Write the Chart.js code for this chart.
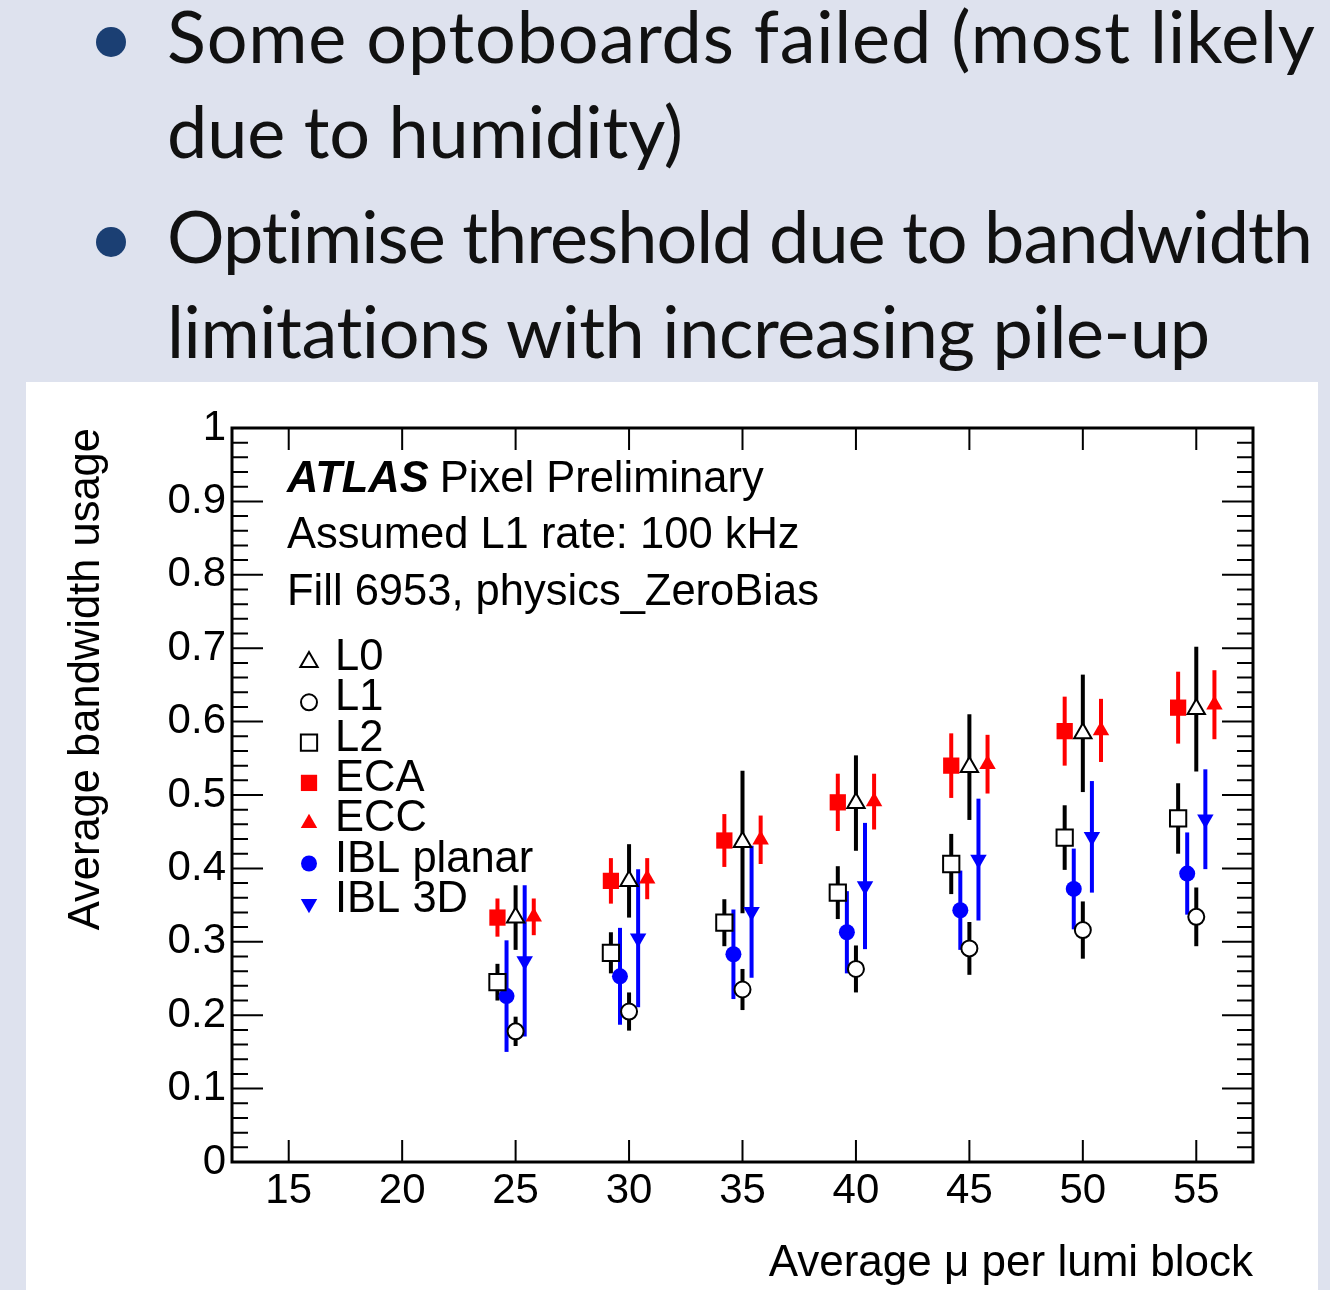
<!DOCTYPE html>
<html>
<head>
<meta charset="utf-8">
<script src="https://cdn.jsdelivr.net/npm/chart.js"></script>
<style>
  html, body { margin: 0; padding: 0; }
  body { width: 1330px; height: 1290px; background: #dee2ee; position: relative; overflow: hidden; }
  #bullets { position: absolute; left: 0; top: 0; }
  #bullets text {
    font-family: Lato, "Open Sans", sans-serif; font-size: 72px; fill: #111;
    font-variant-ligatures: none; letter-spacing: 0.01px;
    font-feature-settings: "liga" 0, "clig" 0, "dlig" 0, "calt" 0;
  }
  #panel { position: absolute; left: 26px; top: 382px; width: 1292px; height: 908px; background: #fff; }
</style>
</head>
<body>
<svg id="bullets" width="1330" height="380">
  <circle cx="111" cy="42" r="15" fill="#1b3f73"/>
  <text x="167" y="63" textLength="1148" lengthAdjust="spacing">Some optoboards failed (most likely</text>
  <text x="167" y="158" textLength="516" lengthAdjust="spacing">due to humidity)</text>
  <circle cx="111" cy="242" r="15" fill="#1b3f73"/>
  <text x="167" y="263" textLength="1146" lengthAdjust="spacing">Optimise threshold due to bandwidth</text>
  <text x="167" y="358" textLength="1043" lengthAdjust="spacing">limitations with increasing pile-up</text>
</svg>
<div id="panel"><canvas id="bw" width="1292" height="908"></canvas></div>
<script>
// average pile-up bins
const muBins = [25, 30, 35, 40, 45, 50, 55];
const xTickLabels = [15, 20, 25, 30, 35, 40, 45, 50, 55];
const yTickLabels = [0, 0.1, 0.2, 0.3, 0.4, 0.5, 0.6, 0.7, 0.8, 0.9, 1];

// bandwidth usage per layer, with errors
const l0Usage = [0.333, 0.383, 0.436, 0.489, 0.538, 0.584, 0.617];
const l0Err   = [0.044, 0.050, 0.097, 0.065, 0.072, 0.080, 0.085];
const l1Usage = [0.178, 0.205, 0.235, 0.263, 0.291, 0.316, 0.334];
const l1Err   = [0.020, 0.026, 0.028, 0.032, 0.036, 0.039, 0.040];
const l2Usage = [0.245, 0.285, 0.326, 0.367, 0.406, 0.442, 0.468];
const l2Err   = [0.025, 0.028, 0.032, 0.036, 0.041, 0.044, 0.048];
const ecaUsage = [0.333, 0.383, 0.438, 0.490, 0.540, 0.587, 0.619];
const ecaErr   = [0.026, 0.031, 0.036, 0.039, 0.044, 0.047, 0.049];
const eccUsage = [0.334, 0.386, 0.439, 0.491, 0.542, 0.588, 0.623];
const eccErr   = [0.025, 0.028, 0.033, 0.038, 0.040, 0.043, 0.047];
const iblPlanarUsage = [0.226, 0.253, 0.283, 0.313, 0.343, 0.372, 0.393];
const iblPlanarErr   = [0.076, 0.066, 0.061, 0.056, 0.054, 0.055, 0.056];
const ibl3dUsage = [0.274, 0.305, 0.341, 0.376, 0.412, 0.443, 0.467];
const ibl3dErr   = [0.103, 0.094, 0.090, 0.086, 0.083, 0.076, 0.068];

const FONT = '"Liberation Sans", Arial, Helvetica, sans-serif';
Chart.defaults.font.family = FONT;
Chart.defaults.color = '#000';

const RED = '#ff0000', BLUE = '#0000ff', BLACK = '#000000';

// layers are shifted a bit in mu so the markers don't overlap
const layers = [
  { label: 'L0', y: l0Usage, err: l0Err, shift: 0, style: 'triangle', r: 10, open: true, color: BLACK },
  { label: 'L1', y: l1Usage, err: l1Err, shift: 0, style: 'circle', r: 8, open: true, color: BLACK },
  { label: 'L2', y: l2Usage, err: l2Err, shift: -0.8, style: 'rect', r: 11.5, open: true, color: BLACK },
  { label: 'ECA', y: ecaUsage, err: ecaErr, shift: -0.8, style: 'rect', r: 11.5, color: RED },
  { label: 'ECC', y: eccUsage, err: eccErr, shift: 0.8, style: 'triangle', r: 9.5, color: RED },
  { label: 'IBL planar', y: iblPlanarUsage, err: iblPlanarErr, shift: -0.4, style: 'circle', r: 8, color: BLUE },
  { label: 'IBL 3D', y: ibl3dUsage, err: ibl3dErr, shift: 0.4, style: 'triangle', r: 9.5, rot: 180, color: BLUE }
];

const datasets = layers.map(l => ({
  label: l.label,
  data: muBins.map((m, i) => ({ x: m + l.shift, y: l.y[i] })),
  errors: l.err,
  barColor: l.color,
  pointStyle: l.style,
  pointRadius: l.r,
  pointRotation: l.rot || 0,
  pointBackgroundColor: l.open ? '#ffffff' : l.color,
  pointBorderColor: l.color,
  pointBorderWidth: l.open ? 2 : 0,
  showLine: false
}));

// vertical error bars, drawn under the markers
const errorBars = {
  id: 'errorBars',
  beforeDatasetsDraw(chart) {
    const { ctx, scales: { x, y } } = chart;
    ctx.save();
    ctx.lineWidth = 4;
    ctx.lineCap = 'butt';
    chart.data.datasets.forEach(ds => {
      ctx.strokeStyle = ds.barColor;
      ds.data.forEach((p, i) => {
        const px = x.getPixelForValue(p.x);
        ctx.beginPath();
        ctx.moveTo(px, y.getPixelForValue(p.y - ds.errors[i]));
        ctx.lineTo(px, y.getPixelForValue(p.y + ds.errors[i]));
        ctx.stroke();
      });
    });
    ctx.restore();
  }
};

// ROOT style frame with inner ticks on all four sides
const rootFrame = {
  id: 'rootFrame',
  afterDraw(chart) {
    const { ctx, chartArea: a, scales: { x, y } } = chart;
    ctx.save();
    ctx.strokeStyle = '#000';
    ctx.lineWidth = 2;
    ctx.beginPath();
    xTickLabels.forEach(v => {
      const px = x.getPixelForValue(v);
      ctx.moveTo(px, a.bottom); ctx.lineTo(px, a.bottom - 22);
      ctx.moveTo(px, a.top); ctx.lineTo(px, a.top + 22);
    });
    for (let k = 0; k <= 50; k++) {
      const py = y.getPixelForValue(k / 50);
      const len = k % 5 === 0 ? 31 : 16;
      ctx.moveTo(a.left, py); ctx.lineTo(a.left + len, py);
      ctx.moveTo(a.right, py); ctx.lineTo(a.right - len, py);
    }
    ctx.stroke();
    ctx.lineWidth = 3;
    ctx.strokeRect(a.left, a.top, a.right - a.left, a.bottom - a.top);
    ctx.restore();
  }
};

// ATLAS label and the marker legend
const labels = {
  id: 'labels',
  afterDraw(chart) {
    const { ctx, chartArea: a } = chart;
    ctx.save();
    ctx.fillStyle = '#000';
    ctx.textBaseline = 'alphabetic';
    ctx.textAlign = 'left';
    const x0 = a.left + 55;
    ctx.font = 'italic bold 43.5px ' + FONT;
    ctx.fillText('ATLAS', x0, a.top + 64);
    const w = ctx.measureText('ATLAS').width;
    ctx.font = '43.5px ' + FONT;
    ctx.fillText('Pixel Preliminary', x0 + w + 11, a.top + 64);
    ctx.fillText('Assumed L1 rate: 100 kHz', x0, a.top + 120);
    ctx.fillText('Fill 6953, physics_ZeroBias', x0, a.top + 177);

    chart.data.datasets.forEach((ds, i) => {
      const base = a.top + 242 + i * 40.3;
      ctx.fillStyle = '#000';
      ctx.fillText(ds.label, a.left + 103, base);
      ctx.fillStyle = ds.pointBackgroundColor;
      ctx.strokeStyle = ds.pointBorderColor;
      ctx.lineWidth = ds.pointBorderWidth;
      Chart.helpers.drawPoint(ctx, {
        pointStyle: ds.pointStyle,
        rotation: ds.pointRotation,
        radius: ds.pointRadius,
        borderWidth: ds.pointBorderWidth
      }, a.left + 77, base - 8);
    });
    ctx.restore();
  }
};

new Chart(document.getElementById('bw'), {
  type: 'scatter',
  data: { datasets },
  plugins: [errorBars, rootFrame, labels],
  options: {
    responsive: false,
    animation: false,
    events: [],
    layout: { padding: { top: 46, right: 65, left: 0, bottom: 0 } },
    plugins: { legend: { display: false }, tooltip: { enabled: false } },
    scales: {
      x: {
        type: 'linear',
        min: 12.5,
        max: 57.5,
        afterBuildTicks: s => { s.ticks = xTickLabels.map(v => ({ value: v })); },
        afterFit: s => { s.height = 128; },
        ticks: { font: { size: 42 }, color: '#000', padding: 4, maxRotation: 0, callback: v => String(v) },
        grid: { display: false, drawTicks: false },
        border: { display: false },
        title: {
          display: true,
          text: 'Average \u03bc per lumi block',
          align: 'end',
          font: { size: 44 },
          color: '#000',
          padding: { top: 0, bottom: 0 }
        }
      },
      y: {
        min: 0,
        max: 1,
        afterBuildTicks: s => { s.ticks = yTickLabels.map(v => ({ value: v })); },
        afterFit: s => { s.width = 206; },
        ticks: { font: { size: 42 }, color: '#000', padding: 6, callback: v => String(v) },
        grid: { display: false, drawTicks: false },
        border: { display: false },
        title: {
          display: true,
          text: 'Average bandwidth usage',
          align: 'end',
          font: { size: 43.5 },
          color: '#000',
          padding: { top: 35, bottom: 0 }
        }
      }
    }
  }
});
</script>
</body>
</html>
